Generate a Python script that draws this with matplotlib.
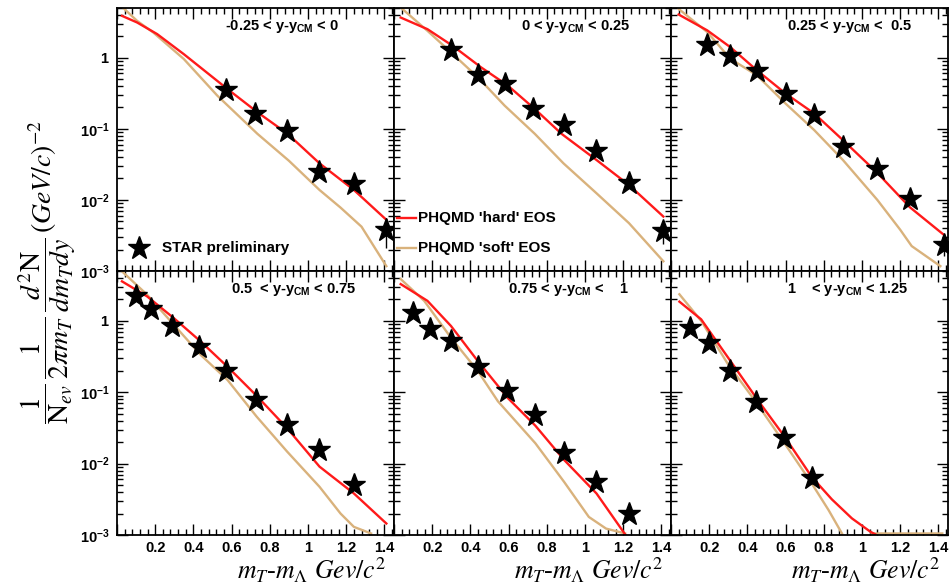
import numpy as np
import matplotlib
matplotlib.use('Agg')
from matplotlib import pyplot as plt
from matplotlib.ticker import MultipleLocator, LogLocator, FuncFormatter, NullFormatter

plt.rcParams['font.family'] = ['Liberation Sans', 'DejaVu Sans']
plt.rcParams['mathtext.fontset'] = 'custom'
plt.rcParams['mathtext.rm'] = 'Liberation Sans'
plt.rcParams['mathtext.bf'] = 'Liberation Sans:bold'
plt.rcParams['mathtext.it'] = 'Liberation Sans:italic'

# rapidity windows, one per panel
bin_lo = ['-0.25', '0', '0.25', '0.5 ', '0.75', '1   ']
bin_hi = ['0', '0.25', ' 0.5', '0.75', '   1', '1.25']
label_x = [0.39, 0.46, 0.42, 0.41, 0.41, 0.42]

# STAR preliminary points
star_x = [
    [0.57, 0.72, 0.89, 1.06, 1.24, 1.41],
    [0.30, 0.44, 0.58, 0.73, 0.89, 1.06, 1.23, 1.41],
    [0.19, 0.31, 0.45, 0.60, 0.75, 0.90, 1.08, 1.25, 1.43],
    [0.10, 0.18, 0.29, 0.43, 0.57, 0.73, 0.89, 1.06, 1.24],
    [0.10, 0.19, 0.30, 0.44, 0.59, 0.74, 0.89, 1.06, 1.23],
    [0.10, 0.20, 0.31, 0.445, 0.59, 0.74],
]
star_y = [
    [0.356, 0.164, 0.093, 0.025, 0.017, 0.0038],
    [1.27, 0.58, 0.43, 0.187, 0.112, 0.049, 0.0175, 0.0037],
    [1.49, 1.04, 0.66, 0.31, 0.155, 0.056, 0.027, 0.0102, 0.0023],
    [2.2, 1.49, 0.85, 0.435, 0.198, 0.079, 0.035, 0.0156, 0.005],
    [1.28, 0.77, 0.53, 0.226, 0.103, 0.048, 0.014, 0.0056, 0.002],
    [0.80, 0.49, 0.20, 0.074, 0.0225, 0.0062],
]
star_err = [
    [0.0, 0.0, 0.0, 0.004, 0.0, 0.0017],
    [0.0, 0.0, 0.0, 0.0, 0.0, 0.0, 0.0, 0.0013],
    [0.0, 0.0, 0.0, 0.0, 0.0, 0.0, 0.0, 0.0, 0.0007],
    [0.0, 0.0, 0.0, 0.0, 0.0, 0.0, 0.0, 0.0, 0.0],
    [0.0, 0.0, 0.0, 0.0, 0.0, 0.0, 0.0, 0.0, 0.0],
    [0.0, 0.0, 0.0, 0.0, 0.0, 0.0011],
]

# PHQMD 'hard' EOS
hard_x = [
    [0.026, 0.105, 0.21, 0.35, 0.578, 0.735, 0.893, 1.06, 1.24, 1.41],
    [0.035, 0.175, 0.307, 0.456, 0.596, 0.737, 0.877, 1.06, 1.23, 1.41],
    [0.04, 0.19, 0.31, 0.45, 0.60, 0.75, 0.90, 1.08, 1.25, 1.43],
    [0.026, 0.158, 0.298, 0.439, 0.579, 0.728, 0.89, 1.06, 1.24, 1.41],
    [0.035, 0.175, 0.298, 0.439, 0.596, 0.74, 0.89, 1.06, 1.21],
    [0.044, 0.158, 0.298, 0.456, 0.596, 0.737, 0.842, 0.947, 1.044, 1.07],
]
hard_y = [
    [3.88, 3.13, 2.15, 1.12, 0.363, 0.171, 0.085, 0.0327, 0.0138, 0.00525],
    [3.67, 2.52, 1.47, 0.731, 0.405, 0.19, 0.085, 0.0364, 0.0162, 0.00583],
    [4.05, 2.42, 1.41, 0.664, 0.313, 0.164, 0.0693, 0.024, 0.0079, 0.0032],
    [3.58, 2.2, 1.09, 0.512, 0.227, 0.0908, 0.0315, 0.00908, 0.00382, 0.00145],
    [3.28, 1.91, 0.85, 0.273, 0.083, 0.034, 0.0113, 0.00382, 0.00102],
    [1.86, 1.05, 0.308, 0.0766, 0.0236, 0.0065, 0.00316, 0.00171, 0.00111, 0.00102],
]

# PHQMD 'soft' EOS
soft_x = [
    [0.03, 0.105, 0.19, 0.35, 0.525, 0.735, 0.90, 1.06, 1.17, 1.28, 1.41],
    [0.035, 0.175, 0.28, 0.439, 0.579, 0.737, 0.887, 1.06, 1.23, 1.41],
    [0.04, 0.19, 0.31, 0.45, 0.60, 0.75, 0.90, 1.08, 1.20, 1.26, 1.41],
    [0.026, 0.158, 0.298, 0.439, 0.579, 0.73, 0.89, 1.06, 1.17, 1.24, 1.33],
    [0.035, 0.158, 0.298, 0.439, 0.544, 0.74, 0.89, 1.02, 1.11, 1.21],
    [0.044, 0.158, 0.298, 0.439, 0.596, 0.737, 0.825, 0.895, 0.96, 1.05, 1.42],
]
soft_y = [
    [5.08, 3.3, 2.26, 0.957, 0.293, 0.085, 0.0355, 0.0138, 0.0078, 0.0042, 0.00117],
    [5.08, 2.39, 1.32, 0.53, 0.212, 0.085, 0.0327, 0.0124, 0.00471, 0.00137],
    [4.86, 2.29, 0.968, 0.565, 0.226, 0.0957, 0.0364, 0.01, 0.0038, 0.00224, 0.00117],
    [4.95, 2.32, 0.879, 0.332, 0.148, 0.0459, 0.0148, 0.00474, 0.002, 0.0013, 0.00105],
    [3.86, 1.91, 0.582, 0.198, 0.0747, 0.0193, 0.00557, 0.00179, 0.00123, 0.00105],
    [2.36, 1.0, 0.248, 0.0766, 0.019, 0.00526, 0.00223, 0.00105, np.nan, 0.00105, 0.00105],
]

RED = '#ff1a1a'
TAN = '#d9b27c'
W, H = 952, 584


def log_label(v, pos):
    if abs(v - 1) < 1e-9:
        return r'$\mathbf{1}$'
    return r'$\mathbf{10^{%d}}$' % round(np.log10(v))


def draw_panel(ax, i):
    row, col = divmod(i, 3)
    ax.set_yscale('log')
    ax.set_xlim(0, 1.45)
    ax.set_ylim(1e-3, 5)
    ax.plot(soft_x[i], soft_y[i], color=TAN, lw=1.7)
    ax.plot(hard_x[i], hard_y[i], color=RED, lw=1.7)
    ax.errorbar(star_x[i], star_y[i], yerr=star_err[i], fmt='*', color='black',
                ms=17, elinewidth=1, capsize=0)
    ax.text(label_x[i], 0.93, f'{bin_lo[i]} < y-' + r'$\mathbf{y_{CM}}$' + f' < {bin_hi[i]}',
            transform=ax.transAxes, fontsize=10.5, fontweight='bold', va='center', ha='left')

    ax.xaxis.set_major_locator(MultipleLocator(0.2))
    ax.xaxis.set_minor_locator(MultipleLocator(0.04))
    ax.yaxis.set_major_locator(LogLocator(base=10))
    ax.yaxis.set_minor_locator(LogLocator(base=10, subs=np.arange(2, 10)))
    ax.tick_params(which='both', direction='in', top=True, right=True, width=1)
    ax.tick_params(which='major', length=8)
    ax.tick_params(which='minor', length=4)
    ax.tick_params(axis='y', which='major', pad=5, labelsize=10.5)
    ax.tick_params(axis='x', which='major', pad=4, labelsize=10.5)
    for spine in ax.spines.values():
        spine.set_linewidth(1.3)

    if col == 0:
        ax.yaxis.set_major_formatter(FuncFormatter(log_label))
    else:
        ax.yaxis.set_major_formatter(NullFormatter())
    ax.yaxis.set_minor_formatter(NullFormatter())

    if row == 1:
        ax.xaxis.set_major_formatter(FuncFormatter(lambda v, p: '' if v < 0.1 else f'{v:g}'))
        for lbl in ax.get_xticklabels():
            lbl.set_fontweight('bold')
        ax.text(0.975, -0.168, r'$m_{T}$-$m_{\Lambda}$ $Gev/c^{2}$', transform=ax.transAxes,
                fontsize=18.5, ha='right', va='baseline', math_fontfamily='stix',
                family='Liberation Serif')
    else:
        ax.xaxis.set_major_formatter(NullFormatter())


def main():
    fig = plt.figure(figsize=(9.52, 5.84), dpi=100)
    lefts = [117, 394, 671]
    tops = [8, 271]
    heights = [263, 264]
    width = 277
    axes = []
    for i in range(6):
        row, col = divmod(i, 3)
        ax = fig.add_axes([lefts[col] / W, 1 - (tops[row] + heights[row]) / H,
                           width / W, heights[row] / H])
        draw_panel(ax, i)
        axes.append(ax)

    # legend entries, placed as in the original
    ax = axes[0]
    ax.plot([0.08], [0.087], '*', color='black', ms=17, transform=ax.transAxes)
    ax.text(0.162, 0.087, 'STAR preliminary', transform=ax.transAxes,
            fontsize=11, fontweight='bold', va='center')
    ax = axes[1]
    ax.plot([0.01, 0.08], [0.2, 0.2], color=RED, lw=1.7, transform=ax.transAxes)
    ax.plot([0.01, 0.08], [0.087, 0.087], color=TAN, lw=1.7, transform=ax.transAxes)
    ax.text(0.087, 0.2, "PHQMD 'hard' EOS", transform=ax.transAxes,
            fontsize=11, fontweight='bold', va='center')
    ax.text(0.087, 0.087, "PHQMD 'soft' EOS", transform=ax.transAxes,
            fontsize=11, fontweight='bold', va='center')

    fig.text(0.05, 0.534,
             r'$\dfrac{1}{\mathrm{N}_{ev}}\,\dfrac{1}{2\pi m_{T}}\,\dfrac{d^{2}\mathrm{N}}{dm_{T}dy}\,(GeV/c)^{-2}$',
             rotation=90, fontsize=20, ha='center', va='center', math_fontfamily='stix')

    fig.savefig('out.png', dpi=100)


if __name__ == '__main__':
    main()
